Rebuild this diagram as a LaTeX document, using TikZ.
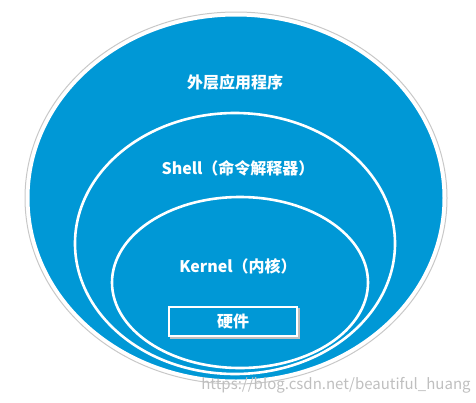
\documentclass[tikz,border=0pt]{standalone}
\usepackage{fontspec}
\setmainfont{Noto Sans CJK SC}
\definecolor{lblue}{RGB}{0,152,214}
\definecolor{shadowgray}{RGB}{200,200,200}
\begin{document}
\begin{tikzpicture}[x=1pt,y=-1pt,
  layer/.style={fill=lblue,draw=white,line width=2.6pt},
  lbl/.style={text=white,font=\bfseries\fontsize{16}{19}\selectfont,inner sep=0pt}]
\useasboundingbox (0,0) rectangle (476,402);
% outer
\draw[shadowgray,line width=1pt] (236,198) ellipse [x radius=211, y radius=186];
\draw[layer,line width=3pt] (236,198) ellipse [x radius=208, y radius=183];
% middle
\draw[layer] (235,243.5) ellipse [x radius=160, y radius=130.5];
% inner
\draw[layer] (240,282.5) ellipse [x radius=128, y radius=85.5];
% hardware box
\fill[black!25] (170,308) rectangle (300,339);
\node[draw=white,line width=2.6pt,fill=lblue,minimum width=128pt,minimum height=29pt,inner sep=0pt] (hw) at (233,321.5) {};
\node[lbl] (hwt) at (hw) {硬件};
\node[lbl] (app) at (235,82) {外层应用程序};
\node[lbl] (shell) at (238,168) {Shell（命令解释器）};
\node[lbl] (kernel) at (238,266) {Kernel（内核）};
\node[text=black!25,font=\fontsize{15}{17}\selectfont,inner sep=0pt] (wm) at (336,385) {https://blog.csdn.net/beautiful\_huang};
\end{tikzpicture}
\end{document}
